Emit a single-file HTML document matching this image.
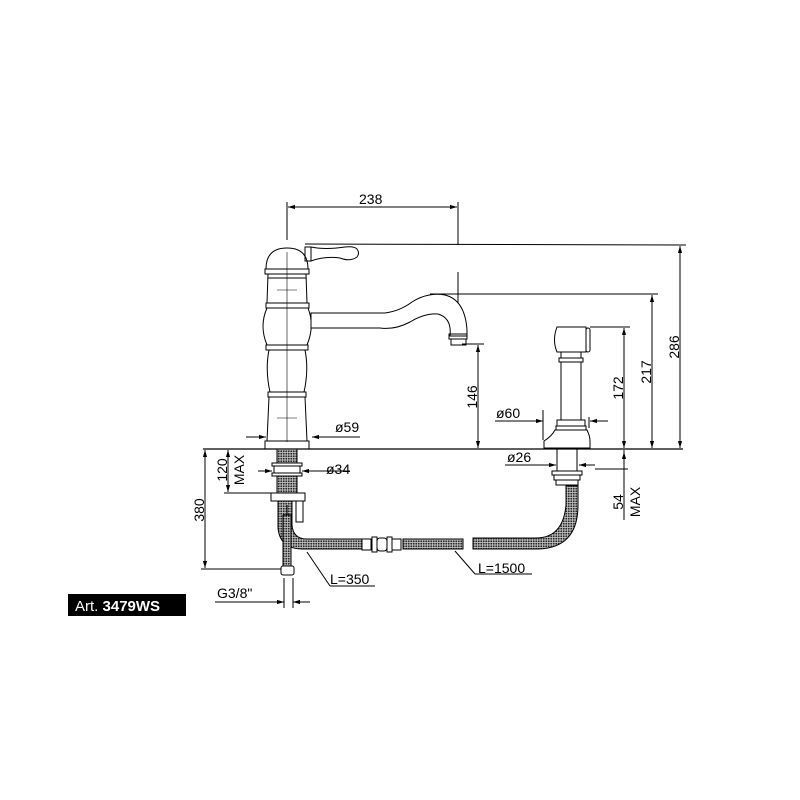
<!DOCTYPE html>
<html><head><style>html,body{margin:0;padding:0;background:#fff}svg{display:block}</style></head>
<body>
<svg width="800" height="800" viewBox="0 0 800 800" xmlns="http://www.w3.org/2000/svg" font-family="Liberation Sans, sans-serif">
<defs>
<pattern id="hs" width="2.5" height="2.5" patternUnits="userSpaceOnUse"><rect width="2.5" height="2.5" fill="#bbb"/><circle cx="1.25" cy="1.25" r="0.9" fill="#222"/></pattern>
<marker id="a" viewBox="0 0 10 10" refX="10" refY="5" markerWidth="7" markerHeight="7" orient="auto-start-reverse"><path d="M0,2L10,5L0,8z" fill="#000"/></marker>
</defs>
<g stroke="#000" fill="none" stroke-width="1">
<line x1="203" y1="449" x2="683" y2="449" stroke-width="1.3"/>
<line x1="287" y1="202" x2="287" y2="240"/><line x1="458" y1="202" x2="458" y2="245"/><line x1="458" y1="272" x2="458" y2="322"/>
<line x1="288" y1="207" x2="457" y2="207" marker-start="url(#a)" marker-end="url(#a)"/>
<line x1="305" y1="244" x2="686" y2="245"/>
<line x1="430" y1="294" x2="658" y2="294"/>
<line x1="590" y1="327" x2="630" y2="327"/>
<line x1="680" y1="246" x2="680" y2="448" marker-start="url(#a)" marker-end="url(#a)"/>
<line x1="652" y1="295" x2="652" y2="448" marker-start="url(#a)" marker-end="url(#a)"/>
<line x1="624" y1="328" x2="624" y2="448" marker-start="url(#a)" marker-end="url(#a)"/>
<line x1="624" y1="450" x2="624" y2="520"/>
<line x1="624" y1="452" x2="624" y2="470" marker-start="url(#a)"/>
<line x1="595" y1="469" x2="628" y2="469"/>
<line x1="478" y1="345" x2="478" y2="448" marker-start="url(#a)" marker-end="url(#a)"/>
<line x1="462" y1="344" x2="484" y2="344"/>
<line x1="246" y1="437" x2="266" y2="437" marker-end="url(#a)"/><line x1="333" y1="437" x2="312" y2="437" marker-end="url(#a)"/><line x1="333" y1="437" x2="360" y2="437"/>
<line x1="495" y1="421" x2="543" y2="421" marker-end="url(#a)"/><line x1="608" y1="421" x2="590" y2="421" marker-end="url(#a)"/>
<line x1="543" y1="410" x2="543" y2="440"/><line x1="589" y1="417" x2="589" y2="428"/>
<line x1="505" y1="465" x2="556" y2="465" marker-end="url(#a)"/><line x1="595" y1="465" x2="579" y2="465" marker-end="url(#a)"/>
<line x1="258" y1="471" x2="272" y2="471" marker-end="url(#a)"/><line x1="350" y1="471" x2="302" y2="471" marker-end="url(#a)"/>
<line x1="228" y1="450" x2="228" y2="492" marker-start="url(#a)" marker-end="url(#a)"/>
<line x1="224" y1="493" x2="272" y2="493"/>
<line x1="205" y1="450" x2="205" y2="568" marker-start="url(#a)" marker-end="url(#a)"/>
<line x1="201" y1="569" x2="282" y2="569"/>
<line x1="215" y1="602" x2="284" y2="602" marker-end="url(#a)"/><line x1="310" y1="602" x2="293" y2="602" marker-end="url(#a)"/>
<line x1="284" y1="578" x2="284" y2="608"/><line x1="293" y1="578" x2="293" y2="608"/>
<line x1="307" y1="552" x2="330" y2="586"/><line x1="330" y1="586" x2="375" y2="586"/>
<line x1="455" y1="551" x2="475" y2="574"/><line x1="475" y1="574" x2="532" y2="574"/>
<path d="M266,269 Q266,248 287,248 Q308,248 308,269 Z" fill="#fff"/>
<rect x="265" y="269" width="44" height="5"/>
<path d="M268,274 L306,274 L307,303 L267,303 Z"/>
<line x1="268" y1="278" x2="306" y2="278"/>
<rect x="266" y="303" width="43" height="5"/>
<path d="M267,308 Q259,326 267,345 L307,345 Q315,326 308,308 Z"/>
<rect x="266" y="345" width="42" height="5"/>
<path d="M269,350 Q265,370 270,392 L304,392 Q309,370 305,350 Z"/>
<rect x="268" y="392" width="38" height="5"/>
<path d="M269,397 L305,397 L307,441 L267,441 Z"/>
<rect x="265" y="441" width="44" height="8"/>
<line x1="287" y1="252" x2="287" y2="442" stroke-width="0.6"/>
<line x1="277" y1="290" x2="297" y2="290" stroke-width="0.6"/>
<line x1="277" y1="418" x2="297" y2="418" stroke-width="0.6"/>
<rect x="305" y="247" width="6" height="14"/>
<path d="M311,247 Q325,250 345,247 Q354,246 357,249 Q360,253 357,257 Q350,262 340,258 Q325,256 311,261 Z"/>
<path d="M311,313 L385,313 Q400,311 412,302 Q428,292 445,295 Q465,300 467,330 L467,336 L450,336 Q452,318 438,314 Q425,313 410,322 Q395,330 380,328 L311,328 Z" fill="#fff"/>
<rect x="449" y="334" width="18" height="5"/><path d="M451,339 L451,345 L466,345 L466,339"/>
<rect x="277" y="449" width="20" height="46" fill="url(#hs)"/>
<rect x="272" y="463" width="30" height="3" fill="#fff"/><rect x="274" y="466" width="26" height="7" fill="#fff"/><rect x="272" y="473" width="30" height="3" fill="#fff"/>
<rect x="271" y="493" width="34" height="8" fill="#fff"/>
<rect x="296" y="501" width="7" height="21" fill="#fff"/>
<path d="M278,501 L278,528 Q280,550 305,549 L362,549 L362,539 L307,539 Q293,539 292,525 L292,501 Z" fill="url(#hs)"/>
<line x1="287" y1="505" x2="287" y2="575"/>
<rect x="283" y="515" width="8" height="52" fill="url(#hs)"/>
<rect x="281" y="566" width="13" height="9" rx="2" fill="#fff"/>
<rect x="362" y="539" width="9" height="11" fill="#fff"/><rect x="372" y="537" width="5" height="15" fill="#fff"/><rect x="377" y="538" width="10" height="13" rx="3" fill="#fff"/><rect x="387" y="537" width="5" height="15" fill="#fff"/><rect x="392" y="539" width="9" height="11" fill="#fff"/>
<rect x="403" y="539" width="60" height="10" fill="url(#hs)"/>
<path d="M566,486 L578,486 L578,505 Q578,548 538,549 L473,549 L473,538 L536,538 Q563,538 566,505 Z" fill="url(#hs)"/>
<path d="M557,327 L586,327 L586,352 L557,352 Q552,340 557,327 Z" fill="#fff"/>
<rect x="586" y="328" width="4" height="24" rx="2"/>
<rect x="561" y="352" width="20" height="6"/><rect x="559" y="358" width="24" height="4"/>
<rect x="561" y="362" width="20" height="58"/>
<rect x="557" y="420" width="28" height="6"/><rect x="556" y="426" width="30" height="4"/>
<path d="M555,430 L587,430 Q590,436 590,441 L590,448 L544,448 L544,441 Q552,436 555,430 Z" fill="#fff"/>
<rect x="557" y="449" width="20" height="22"/>
<rect x="552" y="471" width="30" height="4"/><rect x="554" y="475" width="26" height="5"/><rect x="556" y="480" width="22" height="5"/>
</g>
<g font-size="14" fill="#000">
<text x="359" y="204">238</text>
<text x="335" y="432">ø59</text>
<text x="326" y="474">ø34</text>
<text x="496" y="418">ø60</text>
<text x="507" y="462">ø26</text>
<text x="330" y="584">L=350</text>
<text x="478" y="573">L=1500</text>
<text x="217" y="598">G3/8"</text>
<text transform="translate(477,397) rotate(-90)" text-anchor="middle">146</text>
<text transform="translate(623,388) rotate(-90)" text-anchor="middle">172</text>
<text transform="translate(651,372) rotate(-90)" text-anchor="middle">217</text>
<text transform="translate(679,347) rotate(-90)" text-anchor="middle">286</text>
<text transform="translate(227,470) rotate(-90)" text-anchor="middle">120</text>
<text transform="translate(244,470) rotate(-90)" text-anchor="middle">MAX</text>
<text transform="translate(204,510) rotate(-90)" text-anchor="middle">380</text>
<text transform="translate(623,502) rotate(-90)" text-anchor="middle">54</text>
<text transform="translate(640,502) rotate(-90)" text-anchor="middle">MAX</text>
</g>
<rect x="68" y="594" width="118" height="22" fill="#000"/>
<text x="75" y="611" font-size="15" fill="#fff">Art. <tspan font-weight="bold">3479WS</tspan></text>
</svg>
</body></html>
